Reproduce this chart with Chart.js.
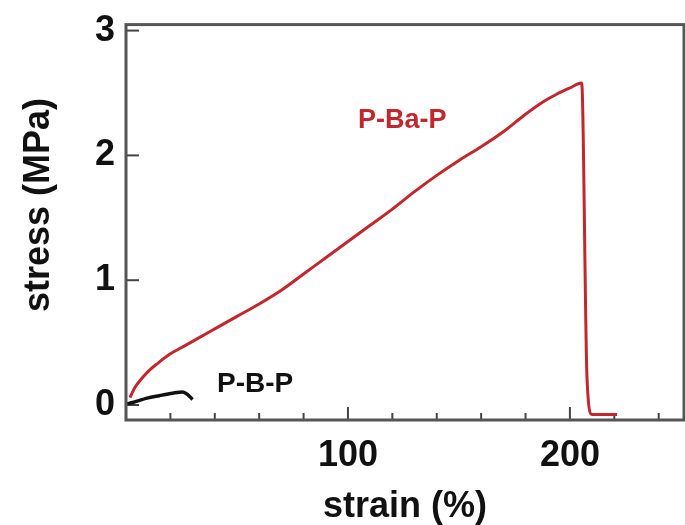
<!DOCTYPE html>
<html>
<head>
<meta charset="utf-8">
<script src="https://cdn.jsdelivr.net/npm/chart.js@4"></script>
<style>
  html, body { margin: 0; padding: 0; background: #fff; }
  canvas { display: block; }
</style>
</head>
<body>
<canvas id="chart" width="685" height="525"></canvas>
<script>
// P-Ba-P curve (strain %, stress MPa)
const strainPBaP = [1.8, 4, 7, 10, 14, 20, 26, 32, 40, 50, 60, 70, 80, 90, 100, 110, 120, 130, 140, 150, 160, 170, 180, 188, 194, 200, 205.3, 207.7, 209.9, 221.2];
const stressPBaP = [0.06, 0.14, 0.21, 0.27, 0.33, 0.41, 0.47, 0.53, 0.61, 0.71, 0.81, 0.92, 1.05, 1.18, 1.31, 1.44, 1.57, 1.71, 1.84, 1.96, 2.07, 2.19, 2.33, 2.43, 2.49, 2.54, 2.58, 0.22, -0.075, -0.075];

// P-B-P curve
const strainPBP = [0.5, 3, 9.5, 15, 21, 25.5, 28, 30];
const stressPBP = [0.01, 0.02, 0.055, 0.075, 0.095, 0.105, 0.08, 0.045];

const xTicks = [20, 40, 60, 80, 100, 120, 140, 160, 180, 200, 220, 240];
const xMajor = [100, 200];
const yTicks = [0, 1, 2, 3];

const RED = '#c1272d';
const FONT = '"Liberation Sans", Arial, Helvetica, sans-serif';

const toPoints = (xs, ys) => xs.map((x, i) => ({ x: x, y: ys[i] }));

// frame, inward ticks, labels and y title
const framePlugin = {
  id: 'frame',
  beforeDatasetsDraw(chart) {
    const { ctx, chartArea: a, scales: { x, y } } = chart;
    ctx.save();
    ctx.strokeStyle = '#444';
    ctx.lineWidth = 2;
    xTicks.forEach(v => {
      const px = x.getPixelForValue(v);
      const len = xMajor.includes(v) ? 13 : 7;
      ctx.beginPath();
      ctx.moveTo(px, a.bottom);
      ctx.lineTo(px, a.bottom - len);
      ctx.stroke();
    });
    yTicks.forEach(v => {
      const py = y.getPixelForValue(v);
      ctx.beginPath();
      ctx.moveTo(a.left, py);
      ctx.lineTo(a.left + 13, py);
      ctx.stroke();
    });
    ctx.restore();
  },
  afterDatasetsDraw(chart) {
    const { ctx, chartArea: a, scales: { x, y } } = chart;
    ctx.save();
    ctx.strokeStyle = '#555';
    ctx.lineWidth = 3;
    ctx.strokeRect(a.left, a.top, a.right - a.left, a.bottom - a.top);

    ctx.textAlign = 'left';
    ctx.textBaseline = 'middle';
    ctx.font = 'bold 27px ' + FONT;
    ctx.fillStyle = RED;
    ctx.fillText('P-Ba-P', x.getPixelForValue(104.5), y.getPixelForValue(2.28));
    ctx.fillStyle = '#111';
    ctx.font = 'bold 28px ' + FONT;
    ctx.fillText('P-B-P', x.getPixelForValue(41), y.getPixelForValue(0.17));

    ctx.translate(39.5, 205);
    ctx.rotate(-Math.PI / 2);
    ctx.textAlign = 'center';
    ctx.font = 'bold 36px ' + FONT;
    ctx.fillStyle = '#111';
    ctx.fillText('stress (MPa)', 0, 0);
    ctx.restore();
  }
};

new Chart(document.getElementById('chart'), {
  type: 'scatter',
  data: {
    datasets: [
      {
        label: 'P-Ba-P',
        data: toPoints(strainPBaP, stressPBaP),
        showLine: true,
        borderColor: RED,
        borderWidth: 3,
        pointRadius: 0,
        cubicInterpolationMode: 'monotone'
      },
      {
        label: 'P-B-P',
        data: toPoints(strainPBP, stressPBP),
        showLine: true,
        borderColor: '#111',
        borderWidth: 3.5,
        pointRadius: 0,
        cubicInterpolationMode: 'monotone'
      }
    ]
  },
  options: {
    responsive: false,
    animation: false,
    layout: { padding: { top: 24, right: 1, left: 0, bottom: 0 } },
    plugins: { legend: { display: false }, tooltip: { enabled: false } },
    scales: {
      x: {
        type: 'linear',
        min: 0,
        max: 251.4,
        afterBuildTicks: s => { s.ticks = xTicks.map(v => ({ value: v })); },
        afterFit: s => { s.height = 105; },
        grid: { display: false },
        border: { display: false },
        ticks: {
          autoSkip: false,
          maxRotation: 0,
          padding: 6,
          color: '#111',
          font: { family: FONT, size: 36, weight: 'bold' },
          callback: v => (xMajor.includes(v) ? String(v) : '')
        },
        title: {
          display: true,
          text: 'strain (%)',
          color: '#111',
          padding: { top: 0, bottom: 0 },
          font: { family: FONT, size: 36, weight: 'bold', lineHeight: 1 }
        }
      },
      y: {
        min: -0.12,
        max: 3.048,
        afterBuildTicks: s => { s.ticks = yTicks.map(v => ({ value: v })); },
        afterFit: s => { s.width = 126; },
        grid: { display: false },
        border: { display: false },
        ticks: {
          padding: 3,
          color: '#111',
          font: { family: FONT, size: 36, weight: 'bold' }
        }
      }
    }
  },
  plugins: [framePlugin]
});
</script>
</body>
</html>
